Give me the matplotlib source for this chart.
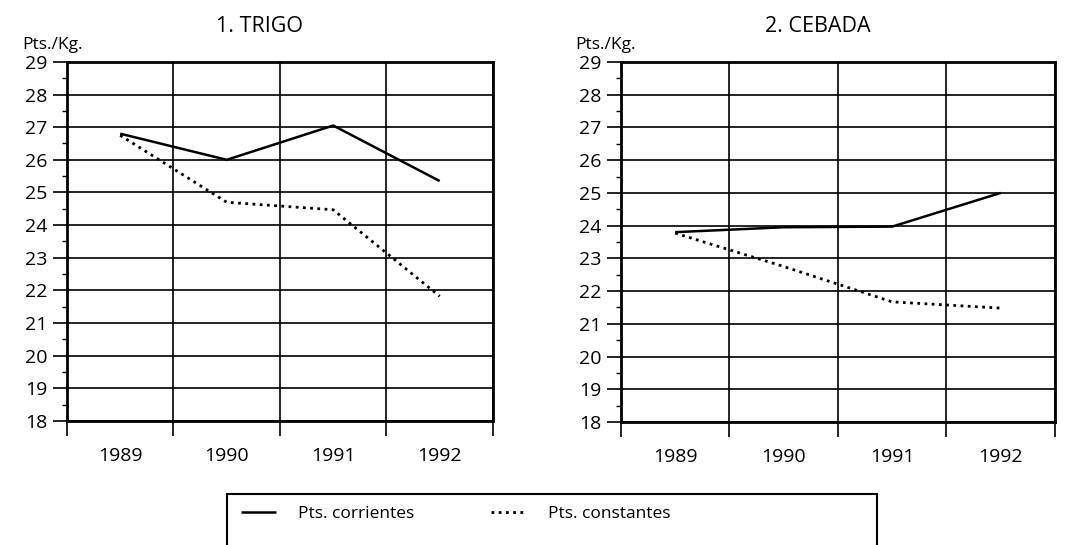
import matplotlib.pyplot as plt
from matplotlib.patches import Rectangle
from matplotlib.ticker import MultipleLocator, FixedLocator

# Data (Pts./Kg.)
years = ['1989', '1990', '1991', '1992']
trigo_corrientes = [26.8, 26.0, 27.05, 25.35]
trigo_constantes = [26.75, 24.7, 24.47, 21.82]
cebada_corrientes = [23.8, 23.95, 23.97, 25.0]
cebada_constantes = [23.77, 22.75, 21.67, 21.48]

titles = ['1. TRIGO', '2. CEBADA']
ylabel = 'Pts./Kg.'
legend_labels = ['Pts. corrientes', 'Pts. constantes']

plt.rcParams['font.family'] = ['Open Sans', 'DejaVu Sans']

fig = plt.figure(figsize=(10.73, 5.45), dpi=100)
ax1 = fig.add_axes([0.0624, 0.2275, 0.397, 0.659])
ax2 = fig.add_axes([0.5787, 0.2257, 0.4045, 0.6606])

series = [(trigo_corrientes, trigo_constantes), (cebada_corrientes, cebada_constantes)]
handles = []
for ax, title, (cur, const) in zip([ax1, ax2], titles, series):
    x = list(range(len(years)))
    h1, = ax.plot(x, cur, color='black', lw=1.8, solid_capstyle='butt')
    h2, = ax.plot(x, const, color='black', lw=2.0, linestyle=(0, (1, 1.6)))
    handles = [h1, h2]

    ax.set_xlim(-0.5, len(years) - 0.5)
    ax.set_ylim(18, 29)

    # y axis: integer labels, half-unit minor ticks
    ax.yaxis.set_major_locator(MultipleLocator(1))
    ax.yaxis.set_minor_locator(MultipleLocator(0.5))
    ax.tick_params(axis='y', which='major', length=10, width=1.2, pad=4, labelsize=14)
    ax.tick_params(axis='y', which='minor', length=3.5, width=1.0)

    # x axis: ticks on category boundaries, labels at centres
    ax.xaxis.set_major_locator(FixedLocator([i - 0.5 for i in range(len(years) + 1)]))
    ax.xaxis.set_minor_locator(FixedLocator(x))
    ax.set_xticklabels([], minor=False)
    ax.set_xticklabels(years, minor=True)
    ax.tick_params(axis='x', which='major', length=11, width=1.2)
    ax.tick_params(axis='x', which='minor', length=0, pad=19, labelsize=14)

    ax.grid(True, which='major', color='black', lw=1.2)
    ax.set_axisbelow(True)
    for s in ax.spines.values():
        s.set_linewidth(2.0)

    ax.text(0.453, 1.07, title, transform=ax.transAxes, ha='center', va='bottom', fontsize=15.5)
    ax.text(-0.105, 1.025, ylabel, transform=ax.transAxes, ha='left', va='bottom', fontsize=12.5)

# legend box, open at the bottom edge of the image
fig.patches.append(Rectangle((227 / 1073, -0.05), (877 - 227) / 1073, 0.05 + 1 - 494 / 545,
                             transform=fig.transFigure, fill=False, ec='black', lw=1.5))
fig.legend(handles, legend_labels, loc='center', bbox_to_anchor=(456 / 1073, 1 - 514 / 545),
           ncol=2, frameon=False, fontsize=12.5, handlelength=2.0, handletextpad=1.3,
           columnspacing=4.4)

fig.savefig('out.png', dpi=100)
